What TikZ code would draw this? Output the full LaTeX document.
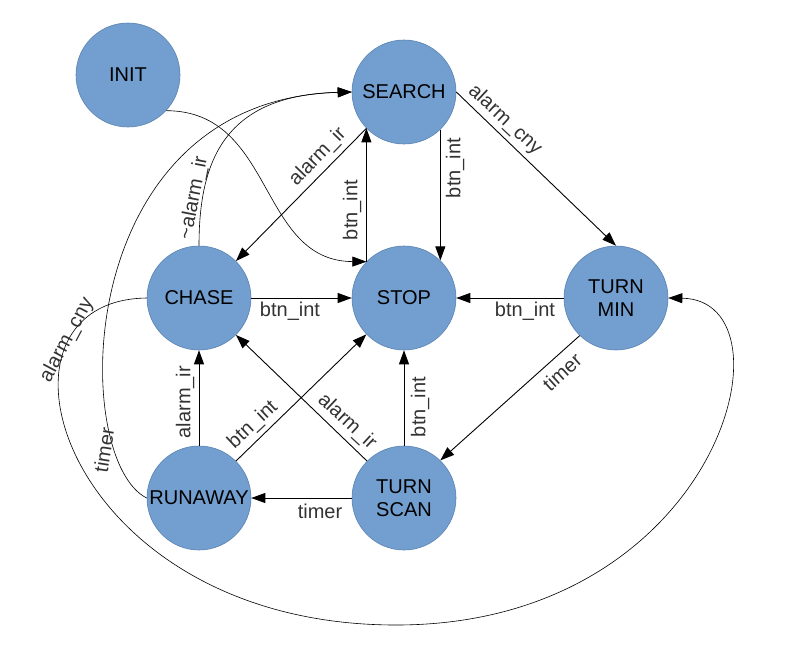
\documentclass[tikz,border=0pt]{standalone}
\usepackage{fontspec}
\setmainfont{Liberation Sans}
\usetikzlibrary{arrows.meta}
\definecolor{stfill}{HTML}{729FCF}
\definecolor{stdraw}{HTML}{5A82B0}
\definecolor{lblc}{HTML}{333333}
\begin{document}
\begin{tikzpicture}[x=1pt,y=-1pt,
  state/.style={circle, minimum size=104pt, inner sep=0pt, fill=stfill, draw=stdraw,
    line width=0.6pt, font=\fontsize{20}{23}\selectfont, align=center},
  arr/.style={draw=black, line width=0.9pt, -{Triangle[length=14pt,width=10pt]}},
  carr/.style={draw=black, line width=0.6pt, -{Triangle[length=14pt,width=10pt]}},
  lbl/.style={font=\fontsize{20}{23}\selectfont, text=lblc, inner sep=0pt}]
\useasboundingbox[fill=white] (0,0) rectangle (794,664);

% states
\node[state] (init) at (128,75) {INIT};
\node[state] (search) at (404,92) {SEARCH};
\node[state] (chase) at (199,298) {CHASE};
\node[state] (stop) at (404,298) {STOP};
\node[state] (turnmin) at (616,298) {TURN\\MIN};
\node[state] (runaway) at (199,498) {RUNAWAY};
\node[state] (turnscan) at (404,498) {TURN\\SCAN};

% curved connectors
\draw[carr] (init.-43) .. controls (275,111) and (258,261) .. (stop.136.5);
\draw[carr] (chase.north) .. controls (199,160) and (225,95) .. (search.west);
\draw[carr] (runaway.west) .. controls (70,460) and (70,100) .. (search.west);
\coordinate (bottom) at (396,625);
\draw[carr] (chase.west) .. controls (-30,300) and (60,625) .. (bottom)
  .. controls (720,625) and (800,300) .. (turnmin.east);

% straight connectors
\draw[arr] (search.-46) -- (stop.46);
\draw[arr] (stop.136.5) -- (search.-136.5);
\draw[arr] (search.-136.5) -- (chase.45);
\draw[arr] (search.east) -- (turnmin.north);
\draw[arr] (chase.east) -- (stop.west);
\draw[arr] (turnmin.west) -- (stop.east);
\draw[arr] (turnmin.-134) -- (turnscan.46);
\draw[arr] (runaway.north) -- (chase.south);
\draw[arr] (runaway.45) -- (stop.-136.5);
\draw[arr] (turnscan.135) -- (chase.-45);
\draw[arr] (turnscan.north) -- (stop.south);
\draw[arr] (turnscan.west) -- (runaway.east);

% labels
\node[lbl, rotate=90] (l1) at (455,168) {btn\_int};
\node[lbl, rotate=90] (l2) at (352,210) {btn\_int};
\node[lbl, rotate=46] (l3) at (318,157) {alarm\_ir};
\node[lbl, rotate=79] (l4) at (194,198) {\textasciitilde alarm\_ir};
\node[lbl, rotate=-43] (l5) at (505,120) {alarm\_cny};
\node[lbl] (l6) at (290,311) {btn\_int};
\node[lbl] (l7) at (525,311) {btn\_int};
\node[lbl, rotate=42] (l8) at (562,372) {timer};
\node[lbl, rotate=90] (l9) at (185,402) {alarm\_ir};
\node[lbl, rotate=43] (l10) at (253,425) {btn\_int};
\node[lbl, rotate=-43] (l11) at (347,422) {alarm\_ir};
\node[lbl, rotate=90] (l12) at (420,407) {btn\_int};
\node[lbl] (l13) at (320,511) {timer};
\node[lbl, rotate=62] (l14) at (67,340) {alarm\_cny};
\node[lbl, rotate=81] (l15) at (104,450) {timer};
\end{tikzpicture}
\end{document}
